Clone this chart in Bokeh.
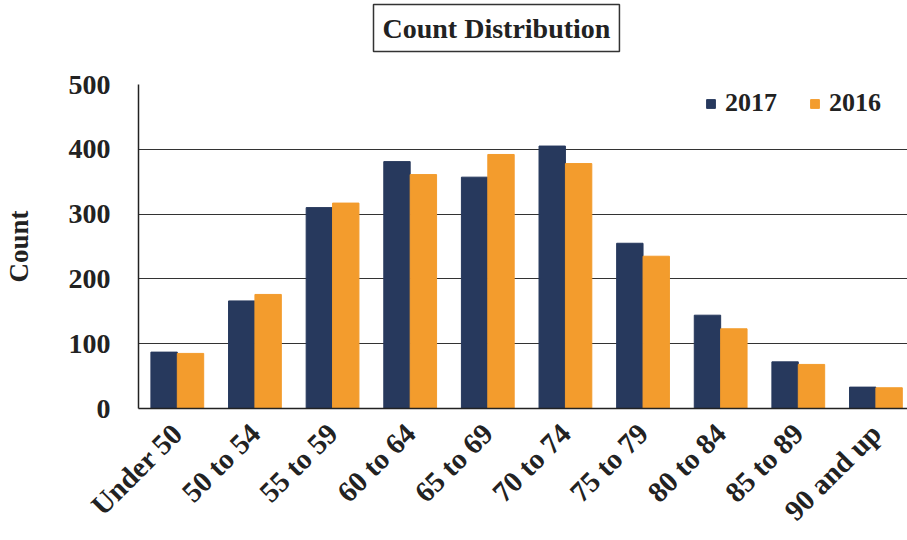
import numpy as np
from bokeh.plotting import figure
from bokeh.models import ColumnDataSource, Range1d, FixedTicker, Title
from bokeh.transform import dodge
from bokeh.embed import file_html
from bokeh.resources import INLINE

categories = ["Under 50", "50 to 54", "55 to 59", "60 to 64", "65 to 69",
              "70 to 74", "75 to 79", "80 to 84", "85 to 89", "90 and up"]
counts_2017 = [87, 166, 310, 381, 357, 405, 255, 144, 72, 33]
counts_2016 = [85, 176, 317, 361, 392, 378, 235, 123, 68, 32]
y_ticks = [0, 100, 200, 300, 400, 500]

NAVY = "#27395d"
ORANGE = "#f39c2d"
TEXT = "#222222"
SERIF = "Liberation Serif"

xpos = list(np.arange(len(categories)) + 0.5)
src = ColumnDataSource(dict(x=xpos, c2017=counts_2017, c2016=counts_2016, cat=categories))

p = figure(width=907, height=540, output_backend="svg", toolbar_location=None,
           x_range=Range1d(0, 9.907), y_range=Range1d(0, 500),
           min_border_left=138, min_border_top=84, min_border_right=0, min_border_bottom=131)
p.outline_line_color = None
p.background_fill_color = "white"
p.border_fill_color = "white"

bw = 0.34
p.vbar(x=dodge("x", -bw / 2, range=p.x_range), top="c2017", width=bw, source=src,
       fill_color=NAVY, line_color=NAVY, legend_label="2017")
p.vbar(x=dodge("x", bw / 2, range=p.x_range), top="c2016", width=bw, source=src,
       fill_color=ORANGE, line_color=ORANGE, legend_label="2016")

# axes
p.xaxis.ticker = FixedTicker(ticks=xpos)
p.xaxis.major_label_overrides = {float(x): c for x, c in zip(xpos, categories)}
p.xaxis.major_label_orientation = np.pi / 4
p.xaxis.major_label_text_font = SERIF
p.xaxis.major_label_text_font_style = "bold"
p.xaxis.major_label_text_font_size = "29px"
p.xaxis.major_label_text_color = TEXT
p.xaxis.major_tick_line_color = None
p.xaxis.minor_tick_line_color = None
p.xaxis.axis_line_color = TEXT
p.xaxis.axis_line_width = 1.5
p.xaxis.major_label_standoff = 14

p.yaxis.ticker = FixedTicker(ticks=y_ticks)
p.yaxis.major_label_text_font = SERIF
p.yaxis.major_label_text_font_style = "bold"
p.yaxis.major_label_text_font_size = "28px"
p.yaxis.major_label_text_color = TEXT
p.yaxis.major_tick_line_color = None
p.yaxis.minor_tick_line_color = None
p.yaxis.axis_line_color = TEXT
p.yaxis.axis_line_width = 1.5
p.yaxis.major_label_standoff = 22
p.yaxis.axis_label = "Count"
p.yaxis.axis_label_text_font = SERIF
p.yaxis.axis_label_text_font_style = "bold"
p.yaxis.axis_label_text_font_size = "27px"
p.yaxis.axis_label_text_color = TEXT
p.yaxis.axis_label_standoff = 32

p.xgrid.grid_line_color = None
p.ygrid.grid_line_color = "#333333"
p.ygrid.grid_line_width = 1.2

# legend
lg = p.legend[0]
lg.orientation = "horizontal"
lg.location = (567, 290)
lg.border_line_color = None
lg.background_fill_alpha = 0
lg.label_text_font = SERIF
lg.label_text_font_style = "bold"
lg.label_text_font_size = "26px"
lg.label_text_color = TEXT
lg.glyph_width = 11
lg.glyph_height = 11
lg.label_standoff = 9
lg.spacing = 32
lg.margin = 0
lg.padding = 6

# boxed title (outermost panel), kept clear of the frame by a blank spacer panel
p.title.text = "Count Distribution"
p.title.align = "left"
p.title.offset = 235
p.title.standoff = 0
p.title.text_font = SERIF
p.title.text_font_style = "bold"
p.title.text_font_size = "28px"
p.title.text_color = TEXT
p.title.border_line_color = "#333333"
p.title.border_line_width = 1.5
p.title.background_fill_color = "white"
p.title.padding = (9, 8)

spacer = Title(text=" ", text_font_size="10px", standoff=20)
p.above = [spacer]

open("out.html", "w").write(file_html(p, INLINE))
